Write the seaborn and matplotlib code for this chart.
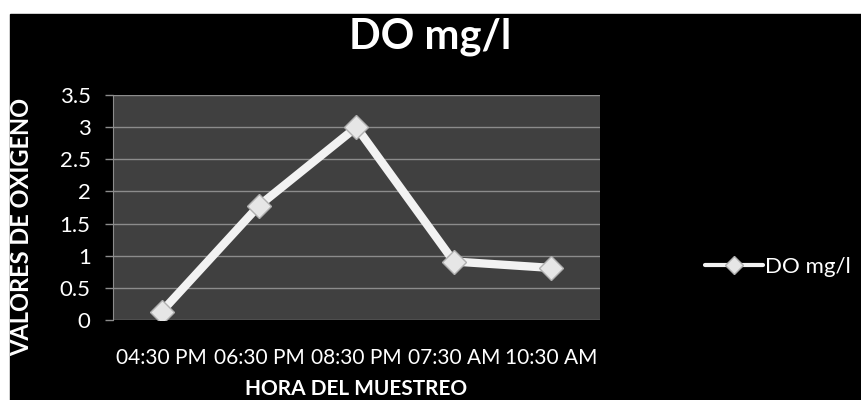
import pandas as pd
import matplotlib.pyplot as plt
import seaborn as sns
from matplotlib.patches import Rectangle

# Data
horas = ['04:30 PM', '06:30 PM', '08:30 PM', '07:30 AM', '10:30 AM']
do_mgl = [0.13, 1.78, 3.0, 0.91, 0.81]
y_ticks = [0, 0.5, 1, 1.5, 2, 2.5, 3, 3.5]
y_tick_labels = ['0', '0.5', '1', '1.5', '2', '2.5', '3', '3.5']

df = pd.DataFrame({'hora': horas, 'DO mg/l': do_mgl})

sns.set_style('dark')
plt.rcParams['font.family'] = ['Lato', 'DejaVu Sans']

fig = plt.figure(figsize=(8.62, 4), dpi=100, facecolor='white')
# black chart area, white strip at top and left like the screenshot
fig.patches.append(Rectangle((10 / 862, 0), 1, 1 - 14 / 400,
                             transform=fig.transFigure, color='black', zorder=-1))

ax = fig.add_axes([0.131, 0.2, 0.565, 0.5625])
ax.set_facecolor('#404040')

sns.lineplot(data=df, x='hora', y='DO mg/l', sort=False, ax=ax,
             color='#f2f2f2', linewidth=6, marker='D', markersize=12,
             markerfacecolor='#e6e6e6', markeredgecolor='#b0b0b0',
             markeredgewidth=1, label='DO mg/l')

ax.set_xlim(-0.5, len(horas) - 0.5)
ax.set_ylim(0, 3.5)
ax.set_yticks(y_ticks)
ax.set_yticklabels(y_tick_labels)
ax.grid(axis='y', color='#8c8c8c', linewidth=1)
ax.grid(axis='x', visible=False)

for s in ['top', 'right', 'bottom']:
    ax.spines[s].set_visible(False)
ax.spines['left'].set_visible(True)
ax.spines['left'].set_color('#8c8c8c')

ax.tick_params(axis='y', colors='white', labelsize=16, length=6, width=1,
               direction='out', left=True, pad=10, color='#8c8c8c')
ax.tick_params(axis='x', colors='white', labelsize=15, length=0, pad=20)

ax.set_xlabel('HORA DEL MUESTREO', color='white', fontsize=15, fontweight='bold')
ax.xaxis.set_label_coords(0.5 * (0.131 + 0.696), 1 - 379 / 400,
                          transform=fig.transFigure)
ax.set_ylabel('VALORES DE OXIGENO', color='white', fontsize=17, fontweight='bold')
ax.yaxis.set_label_coords(22 / 862, 1 - 227 / 400, transform=fig.transFigure)
ax.yaxis.label.set_va('center')

fig.text(0.499, 1 - 37 / 400, 'DO mg/l', color='white', fontsize=30,
         fontweight='bold', ha='center', va='center')

leg = ax.legend(loc='center left', bbox_to_anchor=(1.175, 0.235), frameon=False,
                fontsize=16, handlelength=2.6, handletextpad=0.1,
                markerscale=0.8)
for t in leg.get_texts():
    t.set_color('white')
for h in leg.legend_handles:
    h.set_linewidth(3)

fig.savefig('out.png', dpi=100, facecolor=fig.get_facecolor())
